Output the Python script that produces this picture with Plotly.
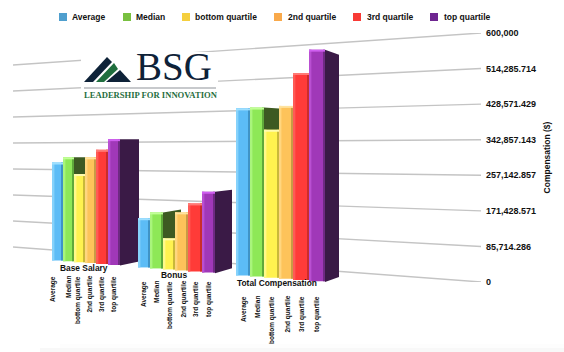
import plotly.graph_objects as go

# ---- data ----
groups = ["Base Salary", "Bonus", "Total Compensation"]
series = ["Average", "Median", "bottom quartile", "2nd quartile", "3rd quartile", "top quartile"]
average = [297000, 140000, 444000]
median = [313000, 158000, 445000]
bottom_quartile = [263000, 87000, 386000]
second_quartile = [313000, 161000, 447000]
third_quartile = [335000, 187000, 530000]
top_quartile = [366000, 220000, 587000]
values = [average, median, bottom_quartile, second_quartile, third_quartile, top_quartile]
tick_vals = [0, 85714.286, 171428.571, 257142.857, 342857.143, 428571.429, 514285.714, 600000]
tick_text = ["0", "85,714.286", "171,428.571", "257,142.857", "342,857.143", "428,571.429", "514,285.714", "600,000"]

# ---- styling ----
FACE = ["#5cbcf6", "#8ee857", "#fff24f", "#fdc35a", "#ff3b38", "#a038b8"]
LIGHT = ["#86d2fb", "#a9f57c", "#fff98a", "#ffd67f", "#ff5a55", "#b94fd2"]
DARK = ["#3f93c6", "#5fa93a", "#c9b83a", "#c99a45", "#c92d2b", "#6e2a82"]
CAP = ["#9fe0ff", "#c2ff97", "#fffbb0", "#ffe39f", "#ff7a75", "#cf5ff0"]
SWATCH = ["#4f9fce", "#78c040", "#f5cf3e", "#f9a94a", "#f83a35", "#6e2590"]
FONT = "Liberation Sans"

# layout of the (pseudo) perspective view, in x-axis units equal to pixels
LEFT, RIGHT, TOP, FLOOR = 13, 481, 33, 282
UNIT = 600000 / (FLOOR - TOP)          # axis units per pixel
EDGES = [
    [52, 63, 74, 85, 96, 108, 120],
    [138, 150, 163, 175, 188, 202, 215],
    [236, 250, 264, 279, 293, 309, 325],
]
LABEL_X = [
    [53, 68, 78, 89, 102, 114],
    [144, 156, 170, 183, 196, 209],
    [244, 257, 272, 287, 302, 317],
]
LABEL_TOP = [276, 281, 296]
GROUP_LABEL = [(83.5, 268), (174, 275), (277, 283)]
SIDE_PURPLE = [(19, 0, -4), (17, 2, -5), (14, -5, -5)]   # depth, top rise, bottom rise
SIDE_GREEN = [(12, 0), (18, 3), (15, -1)]
LEGEND_SWATCH_X = [59, 123, 182, 274, 353, 430]
LEGEND_TEXT_X = [72, 136, 195, 288, 367, 444]


def py(pixel_y):
    return (FLOOR - pixel_y) * UNIT


def paper_x(x):
    return (x - LEFT) / (RIGHT - LEFT)


def paper_y(y):
    return (FLOOR - y) / (FLOOR - TOP)


def floor_px(x):
    return 260 + 0.0806 * (x - 52)


def scale(x):
    return (27.3 + 0.0215 * (x - 13)) / ((FLOOR - TOP) / 7)


fig = go.Figure()

# back wall grid lines, converging to the left
for v in tick_vals:
    fig.add_trace(go.Scatter(
        x=[LEFT, RIGHT], y=[py(247) + v * 26 / 35.57, v], mode="lines",
        line=dict(color="#c4c4c4", width=1.4), hoverinfo="skip", showlegend=False,
    ))

# side faces
for g in range(3):
    # median side
    x0 = EDGES[g][2]
    dx, rise = SIDE_GREEN[g]
    cx = (EDGES[g][1] + EDGES[g][2]) / 2
    top = py(floor_px(cx)) + median[g] * scale(cx)
    fig.add_trace(go.Scatter(
        x=[x0, x0 + dx, x0 + dx, x0], y=[top, top + rise * UNIT, py(floor_px(x0)), py(floor_px(x0))],
        mode="lines", fill="toself", fillcolor="#3d5a22", line=dict(width=0),
        hoverinfo="skip", showlegend=False,
    ))
    # top quartile side
    x0 = EDGES[g][6]
    dx, rise, low = SIDE_PURPLE[g]
    cx = (EDGES[g][5] + EDGES[g][6]) / 2
    top = py(floor_px(cx)) + top_quartile[g] * scale(cx)
    bot = py(floor_px(x0))
    fig.add_trace(go.Scatter(
        x=[x0, x0 + dx, x0 + dx, x0], y=[top, top + rise * UNIT, bot - low * UNIT, bot],
        mode="lines", fill="toself", fillcolor="#3a1a46", line=dict(width=0),
        hoverinfo="skip", showlegend=False,
    ))

# front faces: real bars on an overlaid copy of the axes
for s, name in enumerate(series):
    xc, w, b, h = [], [], [], []
    for g in range(3):
        x0, x1 = EDGES[g][s], EDGES[g][s + 1]
        c = (x0 + x1) / 2
        xc.append(c)
        w.append(x1 - x0)
        b.append(py(floor_px(c)))
        h.append(values[s][g] * scale(c))
    common = dict(xaxis="x2", yaxis="y2", showlegend=False)
    fig.add_trace(go.Bar(x=xc, y=h, base=b, width=w, name=name, marker=dict(color=FACE[s], line=dict(width=0)), **common))
    # left highlight
    fig.add_trace(go.Bar(x=[c - wi / 2 + 1.2 for c, wi in zip(xc, w)], y=h, base=b, width=[2.4] * 3,
                         marker=dict(color=LIGHT[s], line=dict(width=0)), hoverinfo="skip", **common))
    # right shade
    fig.add_trace(go.Bar(x=[c + wi / 2 - 1 for c, wi in zip(xc, w)], y=h, base=b, width=[2] * 3,
                         marker=dict(color=DARK[s], line=dict(width=0)), hoverinfo="skip", **common))
    # top cap
    fig.add_trace(go.Bar(x=xc, y=[2 * UNIT] * 3, base=[bi + hi - 2 * UNIT for bi, hi in zip(b, h)], width=w,
                         marker=dict(color=CAP[s], line=dict(width=0)), hoverinfo="skip", **common))

shapes = []
annotations = []


def rect(x0, y0, x1, y1, color, layer="above"):
    shapes.append(dict(type="rect", xref="paper", yref="paper",
                       x0=paper_x(x0), x1=paper_x(x1), y0=paper_y(y0), y1=paper_y(y1),
                       fillcolor=color, line=dict(width=0), layer=layer))


def poly(points, color):
    path = "M" + " L".join(f"{paper_x(x)},{paper_y(y)}" for x, y in points) + " Z"
    shapes.append(dict(type="path", xref="paper", yref="paper", path=path, fillcolor=color,
                       line=dict(width=0), layer="above"))


def text(x, y, s, size, color="#111111", family=FONT, bold=True, angle=0, xa="left", ya="middle"):
    annotations.append(dict(
        xref="paper", yref="paper", x=paper_x(x), y=paper_y(y), text=s, showarrow=False, textangle=angle,
        xanchor=xa, yanchor=ya, borderpad=0, borderwidth=0,
        font=dict(family=family, size=size, color=color, weight=700 if bold else 400),
    ))


# faint floor shading at the bottom of the page
rect(60, 344, 564, 348, "#fdfdfd", "below")
rect(40, 348, 564, 352, "#f8f8f8", "below")

# legend
for s, name in enumerate(series):
    rect(LEGEND_SWATCH_X[s], 13, LEGEND_SWATCH_X[s] + 8, 21, SWATCH[s])
    text(LEGEND_TEXT_X[s], 17.3, name, 8.5)

# category labels
for g, name in enumerate(groups):
    text(GROUP_LABEL[g][0], GROUP_LABEL[g][1], name, 8.4, xa="center")
    for s, label in enumerate(series):
        text(LABEL_X[g][s], LABEL_TOP[g], label, 6.5, angle=-90, xa="center", ya="top")

# logo
rect(81, 52, 218, 100, "#ffffff")
NAVY, GREEN = "#0e2238", "#1f6e3e"
poly([(84, 82), (107, 57), (112, 62), (93, 82)], NAVY)
poly([(96, 82), (114, 63), (118, 69), (104, 82)], GREEN)
poly([(106, 82), (120, 70), (131, 82)], NAVY)
text(136, 66.5, "BSG", 39, color=NAVY, family="Liberation Serif", bold=False)
rect(84, 87.5, 216, 88.5, "#8f9499")
text(84, 94.5, "LEADERSHIP FOR INNOVATION", 8.6, color=GREEN, family="Liberation Serif")

fig.update_layout(
    width=564, height=352,
    margin=dict(l=LEFT, r=564 - RIGHT, t=TOP, b=352 - FLOOR),
    paper_bgcolor="white", plot_bgcolor="rgba(0,0,0,0)",
    barmode="overlay", showlegend=False, shapes=shapes, annotations=annotations,
    xaxis=dict(range=[LEFT, RIGHT], visible=False, fixedrange=True),
    xaxis2=dict(range=[LEFT, RIGHT], visible=False, overlaying="x", fixedrange=True),
    yaxis=dict(
        range=[0, 600000], side="right", tickvals=tick_vals, ticktext=tick_text,
        tickfont=dict(family=FONT, size=9, color="#111111", weight=700),
        ticklabelstandoff=4,
        showgrid=False, zeroline=False, showline=False, ticks="", fixedrange=True,
        title=dict(text="Compensation ($)", font=dict(family=FONT, size=8.5, color="#111111", weight=700), standoff=8),
    ),
    yaxis2=dict(range=[0, 600000], visible=False, overlaying="y", side="right", fixedrange=True),
)
fig.write_html(
    "out.html",
    config=dict(displayModeBar=False),
    post_script="document.body.style.margin='0';document.body.style.overflow='hidden';",
)
